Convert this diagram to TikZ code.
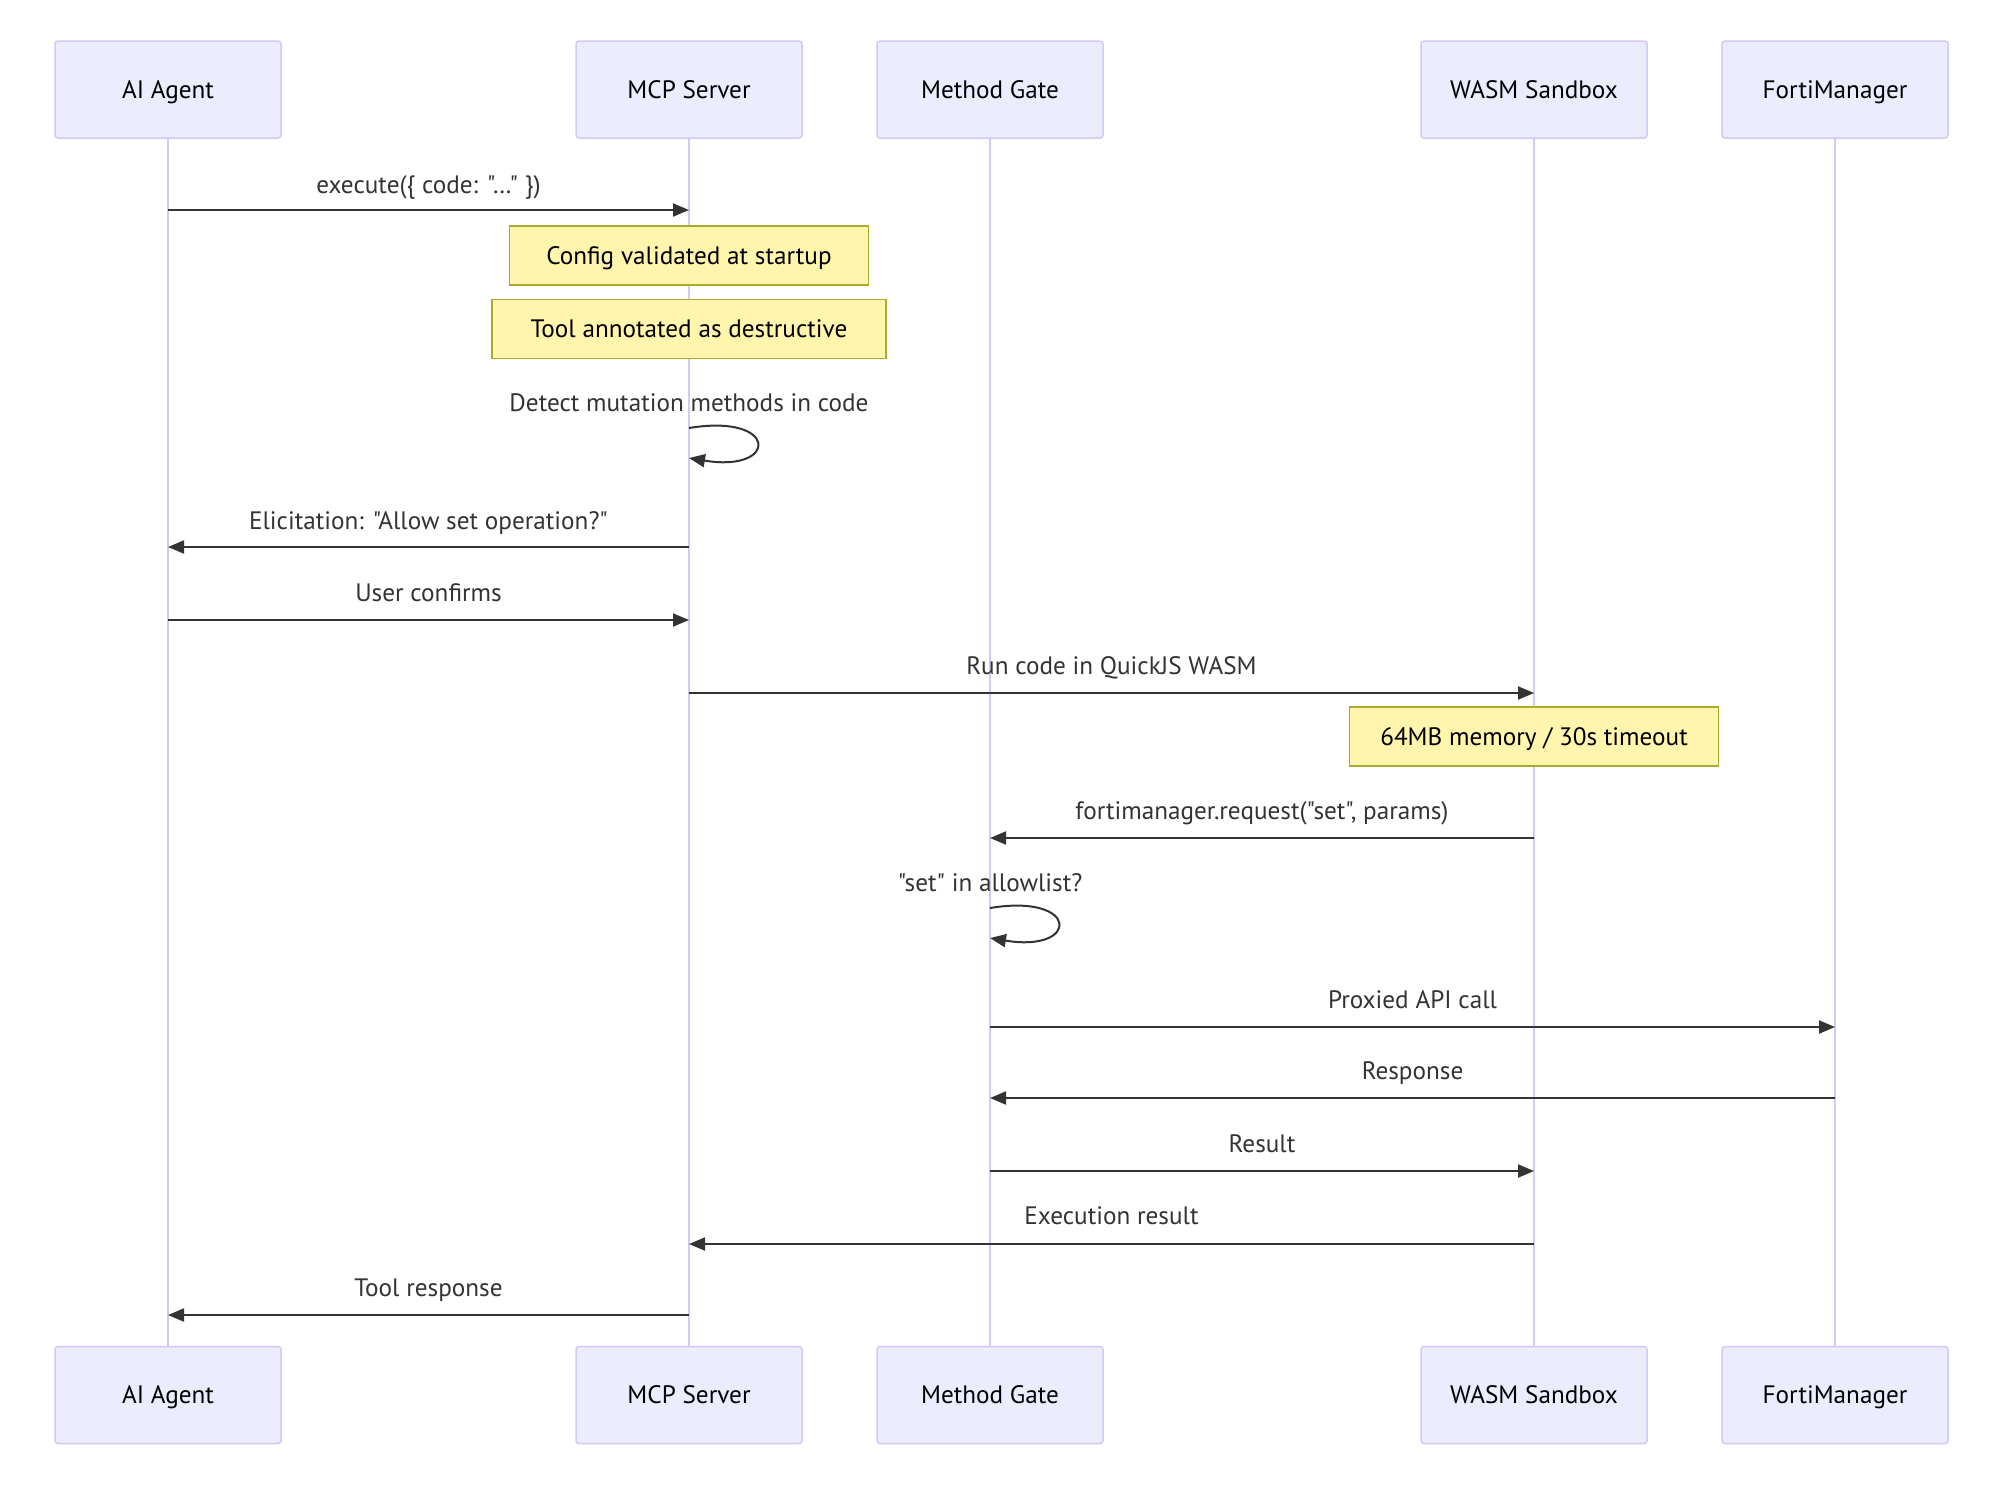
\documentclass[tikz,border=0pt]{standalone}
\usepackage{fontspec}
\setmainfont{PT Sans}[Ligatures=TeXOff]
\usetikzlibrary{arrows.meta}
\definecolor{actfill}{HTML}{ECECFF}
\definecolor{actline}{HTML}{D4C8F5}
\definecolor{lifeline}{HTML}{D4C8F5}
\definecolor{notefill}{HTML}{FFF5AD}
\definecolor{noteline}{HTML}{AAAA33}
\definecolor{msg}{HTML}{333333}
\tikzset{
  txt/.style={font=\fontsize{12.6}{15}\selectfont, text height=0.9em, text depth=0.05em},
  actor/.style={txt, draw=actline, fill=actfill, line width=0.75pt, rounded corners=1.5pt,
    minimum width=113pt, minimum height=48.5pt, inner sep=0pt, text=black},
  life/.style={draw=lifeline, line width=1pt},
  msgline/.style={draw=msg, line width=1pt, -{Triangle[length=8pt,width=6.5pt]}},
  msglabel/.style={txt, text=msg, inner sep=0pt},
  note/.style={txt, draw=noteline, fill=notefill, line width=0.75pt, inner sep=0pt,
    minimum height=29.5pt, text=black},
}
\begin{document}
\begin{tikzpicture}[x=0.5pt,y=-0.5pt]
\useasboundingbox[fill=white] (0,0) rectangle (2000,1496);
% actors top
\node[actor] (a1) at (168,89.5) {AI Agent};
\node[actor] (a2) at (689,89.5) {MCP Server};
\node[actor] (a3) at (990,89.5) {Method Gate};
\node[actor] (a4) at (1534,89.5) {WASM Sandbox};
\node[actor] (a5) at (1835,89.5) {FortiManager};
% actors bottom
\node[actor] (b1) at (168,1395) {AI Agent};
\node[actor] (b2) at (689,1395) {MCP Server};
\node[actor] (b3) at (990,1395) {Method Gate};
\node[actor] (b4) at (1534,1395) {WASM Sandbox};
\node[actor] (b5) at (1835,1395) {FortiManager};

% lifelines
\foreach \i in {1,...,5} {
  \draw[life] (a\i.south) -- (b\i.north);
}

% messages
\draw[msgline] (a1.south |- 0,210) -- (a2.south |- 0,210)
  node[msglabel, midway, yshift=12.5pt] (m1) {execute(\{ code: "…" \})};
\node[note, minimum width=179.5pt] (n1) at (689,255.5) {Config validated at startup};
\node[note, minimum width=197pt] (n2) at (689,329) {Tool annotated as destructive};
\node[msglabel] (m2) at (689,403) {Detect mutation methods in code};
\draw[msgline] (a2.south |- 0,428) .. controls ([xshift=45pt]a2.south |- 0,413) and ([xshift=45pt]a2.south |- 0,473) .. (a2.south |- 0,458);
\draw[msgline] (a2.south |- 0,547) -- (a1.south |- 0,547)
  node[msglabel, midway, yshift=13pt] (m3) {Elicitation: "Allow set operation?"};
\draw[msgline] (a1.south |- 0,620) -- (a2.south |- 0,620)
  node[msglabel, midway, yshift=13.5pt] (m4) {User confirms};
\draw[msgline] (a2.south |- 0,693) -- (a4.south |- 0,693)
  node[msglabel, midway, yshift=13.5pt] (m5) {Run code in QuickJS WASM};
\node[note, minimum width=184.5pt] (n3) at (1534,736.5) {64MB memory / 30s timeout};
\draw[msgline] (a4.south |- 0,838) -- (a3.south |- 0,838)
  node[msglabel, midway, yshift=13.5pt] (m6) {fortimanager.request("set", params)};
\node[msglabel] (m7) at (990,883) {"set" in allowlist?};
\draw[msgline] (a3.south |- 0,908) .. controls ([xshift=45pt]a3.south |- 0,893) and ([xshift=45pt]a3.south |- 0,953) .. (a3.south |- 0,938);
\draw[msgline] (a3.south |- 0,1027) -- (a5.south |- 0,1027)
  node[msglabel, midway, yshift=13.5pt] (m8) {Proxied API call};
\draw[msgline] (a5.south |- 0,1098) -- (a3.south |- 0,1098)
  node[msglabel, midway, yshift=13.5pt] (m9) {Response};
\draw[msgline] (a3.south |- 0,1171) -- (a4.south |- 0,1171)
  node[msglabel, midway, yshift=13.5pt] (m10) {Result};
\draw[msgline] (a4.south |- 0,1244) -- (a2.south |- 0,1244)
  node[msglabel, midway, yshift=14pt] (m11) {Execution result};
\draw[msgline] (a2.south |- 0,1315) -- (a1.south |- 0,1315)
  node[msglabel, midway, yshift=13.5pt] (m12) {Tool response};
\end{tikzpicture}
\end{document}
